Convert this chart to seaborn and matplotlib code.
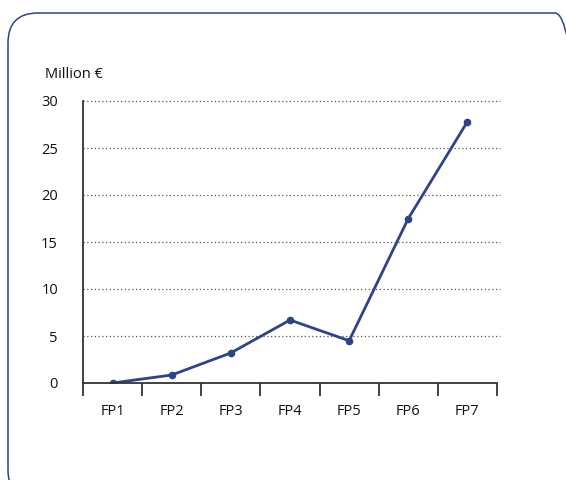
import matplotlib
matplotlib.use('Agg')
import matplotlib.pyplot as plt
import seaborn as sns
import pandas as pd
from matplotlib.patches import FancyBboxPatch

# data
programmes = ['FP1', 'FP2', 'FP3', 'FP4', 'FP5', 'FP6', 'FP7']
funding = [0.0, 0.85, 3.2, 6.7, 4.5, 17.5, 27.8]
y_ticks = [0, 5, 10, 15, 20, 25, 30]

df = pd.DataFrame({'programme': programmes, 'funding': funding})

sns.set_style('white')
plt.rcParams['font.family'] = ['Open Sans', 'DejaVu Sans']

fig = plt.figure(figsize=(5.66, 4.8), dpi=100)
ax = fig.add_axes([83 / 566, 97 / 480, 414 / 566, 282 / 480])

line_col = '#2f4483'
sns.lineplot(x='programme', y='funding', data=df, ax=ax, color=line_col,
             linewidth=2, marker='o', markersize=5.5, markeredgewidth=0,
             sort=False)

ax.set_xlim(-0.5, len(programmes) - 0.5)
ax.set_ylim(0, 30)
ax.set_yticks(y_ticks)
ax.set_yticklabels([str(t) for t in y_ticks], fontsize=10.5, color='#111111')
ax.set_xticks(range(len(programmes)))
ax.set_xticklabels(programmes, fontsize=10.5, color='#111111')
ax.set_xticks([i - 0.5 for i in range(len(programmes) + 1)], minor=True)
ax.tick_params(axis='x', which='major', bottom=True, length=0, pad=15)
ax.tick_params(axis='x', which='minor', bottom=True, length=9, width=1.3,
               color='#333333', direction='out')
ax.tick_params(axis='y', length=0, pad=18)
ax.set_xlabel('')
ax.set_ylabel('')

# dotted horizontal grid
for t in y_ticks[1:]:
    ax.plot([-0.5, 6.55], [t, t], linestyle=(0, (1, 2)), color='#555555',
            linewidth=0.9, clip_on=False, zorder=0)

for s in ['top', 'right']:
    ax.spines[s].set_visible(False)
for s in ['left', 'bottom']:
    ax.spines[s].set_color('#333333')
    ax.spines[s].set_linewidth(1.3)

fig.text(45 / 566, 1 - 75 / 480, 'Million €', fontsize=10.5, color='#111111',
         ha='left', va='center')

# rounded frame around the chart, running off the right and bottom edges
frame = FancyBboxPatch((0.08, -0.2), 5.77, 4.87,
                       boxstyle='round,pad=0,rounding_size=0.3',
                       transform=fig.dpi_scale_trans, fill=False,
                       edgecolor='#2f4483', linewidth=1.1)
fig.patches.append(frame)

fig.savefig('out.png', dpi=100)
